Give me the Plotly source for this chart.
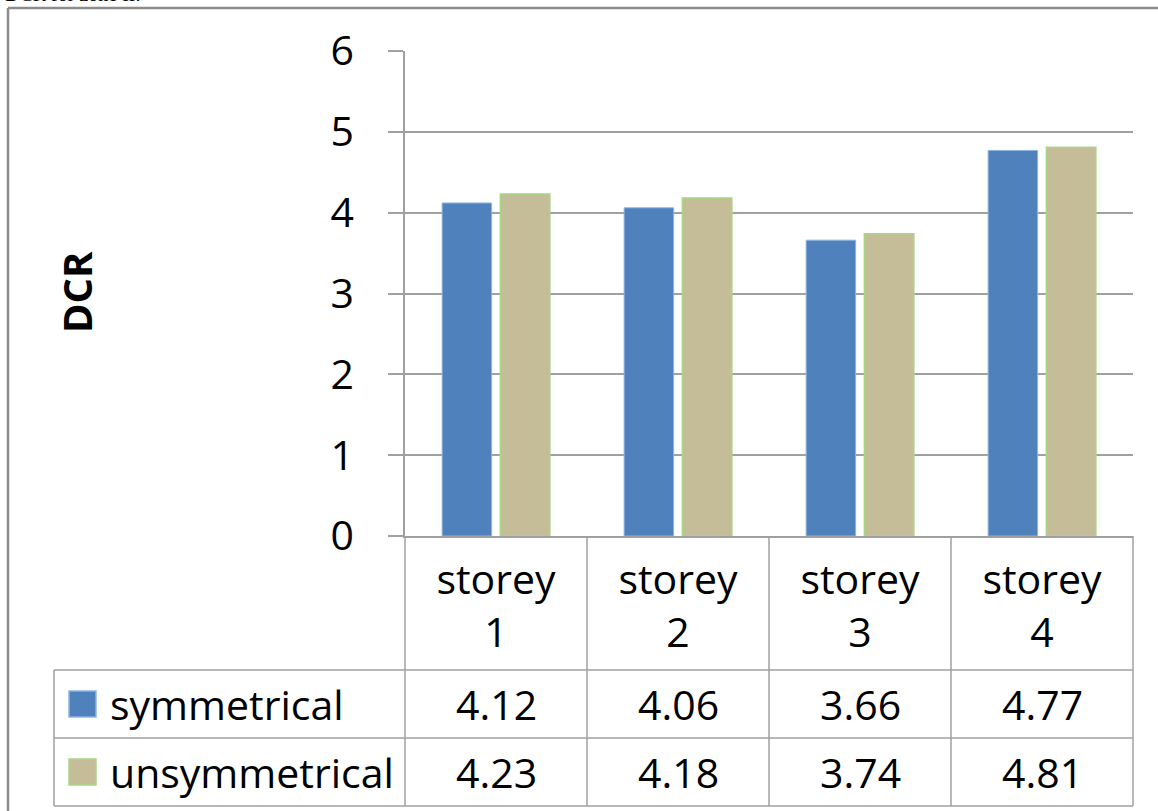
import plotly.graph_objects as go

# Chart data
categories = ["storey 1", "storey 2", "storey 3", "storey 4"]
tick_labels = ["storey<br>1", "storey<br>2", "storey<br>3", "storey<br>4"]
series_names = ["symmetrical", "unsymmetrical"]
symmetrical = [4.12, 4.06, 3.66, 4.77]
unsymmetrical = [4.23, 4.18, 3.74, 4.81]
y_ticks = [0, 1, 2, 3, 4, 5, 6]

W, H = 1158, 811
L, R, T, B = 405, 25, 51, 275      # plot-area margins in pixels
PW, PH = W - L - R, H - T - B

FONT = "Open Sans"
FS = 41
GRID = "#A0A0A0"
BLUE = "#4F81BD"
TAN = "#C4BD97"


def px(x):
    return (x - L) / PW


def py(y):
    return (H - B - y) / PH


fig = go.Figure()
fig.add_trace(go.Bar(x=categories, y=symmetrical, name=series_names[0],
                     marker=dict(color=BLUE, line=dict(color="#8EB4E3", width=1))))
fig.add_trace(go.Bar(x=categories, y=unsymmetrical, name=series_names[1],
                     marker=dict(color=TAN, line=dict(color="#A6D785", width=1.5))))

shapes = []
line = dict(color=GRID, width=1.5)
# outer frame of the chart object
frame = dict(color="#8C8C8C", width=2.5)
shapes.append(dict(type="line", xref="paper", yref="paper", x0=px(8), x1=px(W + 5),
                   y0=py(8), y1=py(8), line=frame))
shapes.append(dict(type="line", xref="paper", yref="paper", x0=px(8), x1=px(8),
                   y0=py(8), y1=py(H + 5), line=frame))
# data table grid
col_edges = [405, 587, 769, 951, 1133]
for xe in col_edges:
    shapes.append(dict(type="line", xref="paper", yref="paper", x0=px(xe), x1=px(xe),
                       y0=py(536), y1=py(806), line=line))
for ye in [670, 738, 806]:
    shapes.append(dict(type="line", xref="paper", yref="paper", x0=px(54), x1=px(1133),
                       y0=py(ye), y1=py(ye), line=line))
shapes.append(dict(type="line", xref="paper", yref="paper", x0=px(54), x1=px(54),
                   y0=py(670), y1=py(806), line=line))
# legend keys in the table
row_centers = [704, 772]
key_styles = [dict(fill=BLUE, edge="#8EB4E3"), dict(fill=TAN, edge="#A6D785")]
for yc, st in zip(row_centers, key_styles):
    shapes.append(dict(type="rect", xref="paper", yref="paper",
                       x0=px(69), x1=px(96), y0=py(yc - 13), y1=py(yc + 13),
                       fillcolor=st["fill"], line=dict(color=st["edge"], width=1.5)))

annotations = []
for yc, name, vals in zip(row_centers, series_names, [symmetrical, unsymmetrical]):
    annotations.append(dict(x=px(108), y=py(yc), xref="paper", yref="paper",
                            text=name, showarrow=False, xanchor="left", yanchor="middle",
                            font=dict(family=FONT, size=FS, color="black")))
    for c, v in zip(categories, vals):
        annotations.append(dict(x=c, y=py(yc), xref="x", yref="paper",
                                text=f"{v:.2f}", showarrow=False,
                                xanchor="center", yanchor="middle",
                                font=dict(family=FONT, size=FS, color="black")))
# vertical axis title
annotations.append(dict(x=px(76), y=py(292), xref="paper", yref="paper",
                        text="<b>DCR</b>", textangle=-90, showarrow=False,
                        xanchor="center", yanchor="middle",
                        font=dict(family=FONT, size=40, color="black")))
# caption line above the frame
annotations.append(dict(x=px(3), y=py(7), xref="paper", yref="paper",
                        text="DCR for zone II.", showarrow=False,
                        xanchor="left", yanchor="bottom",
                        font=dict(family="Liberation Serif", size=20, color="black")))

fig.update_layout(
    width=W, height=H,
    margin=dict(l=L, r=R, t=T, b=B, pad=0),
    paper_bgcolor="white", plot_bgcolor="white",
    barmode="group", bargap=0.36, bargroupgap=0.15,
    showlegend=False,
    shapes=shapes, annotations=annotations,
    xaxis=dict(tickmode="array", tickvals=categories, ticktext=tick_labels,
               showline=True, linecolor=GRID, linewidth=1.5, ticks="",
               showgrid=False, ticklabelstandoff=7, automargin=False,
               tickfont=dict(family=FONT, size=FS, color="black")),
    yaxis=dict(range=[0, 6], tickvals=y_ticks, showline=True, linecolor=GRID,
               linewidth=1.5, ticks="outside", ticklen=15, tickcolor=GRID,
               tickwidth=1.5, showgrid=True, gridcolor=GRID, gridwidth=1.5,
               zeroline=False, ticklabelstandoff=26, automargin=False,
               tickfont=dict(family=FONT, size=FS, color="black")),
)

fig.write_html("out.html")
